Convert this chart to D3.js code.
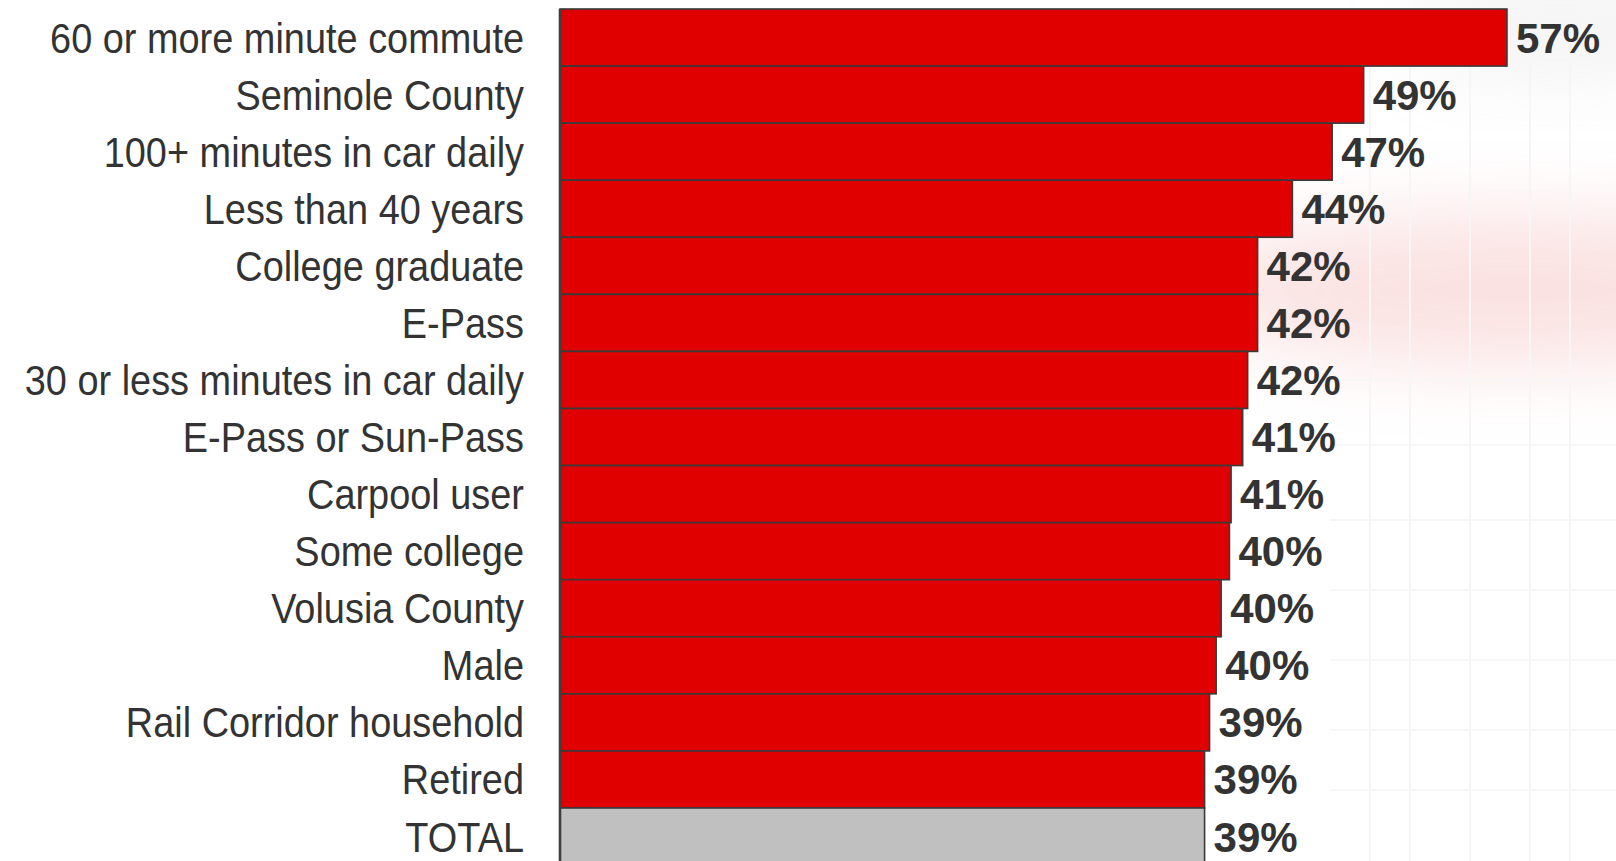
<!DOCTYPE html>
<html>
<head>
<meta charset="utf-8">
<script src="https://cdn.jsdelivr.net/npm/d3@7"></script>
<style>
  html, body { margin: 0; padding: 0; background: #fff; }
  svg { display: block; }
</style>
</head>
<body>
<svg id="chart" width="1616" height="861"></svg>
<script>
const categories = [
  "60 or more minute commute",
  "Seminole County",
  "100+ minutes in car daily",
  "Less than 40 years",
  "College graduate",
  "E-Pass",
  "30 or less minutes in car daily",
  "E-Pass or Sun-Pass",
  "Carpool user",
  "Some college",
  "Volusia County",
  "Male",
  "Rail Corridor household",
  "Retired",
  "TOTAL"
];
const values = [57.15, 48.5, 46.6, 44.2, 42.1, 42.1, 41.5, 41.2, 40.5, 40.4, 39.9, 39.6, 39.2, 38.9, 38.9];
const valueLabels = ["57%", "49%", "47%", "44%", "42%", "42%", "42%", "41%", "41%", "40%", "40%", "40%", "39%", "39%", "39%"];
const highlight = "TOTAL";

const W = 1616, H = 861;
const svg = d3.select("#chart");

// faint decorative background
const defs = svg.append("defs");
const blur = defs.append("filter").attr("id", "blur").attr("x", "-50%").attr("y", "-50%").attr("width", "200%").attr("height", "200%");
blur.append("feGaussianBlur").attr("stdDeviation", 40);
const bg = svg.append("g");
bg.append("ellipse").attr("cx", 1520).attr("cy", 290).attr("rx", 330).attr("ry", 75)
  .attr("fill", "#e86a6a").attr("opacity", 0.2).attr("filter", "url(#blur)");
bg.append("ellipse").attr("cx", 1560).attr("cy", 30).attr("rx", 160).attr("ry", 50)
  .attr("fill", "#b0b0b0").attr("opacity", 0.15).attr("filter", "url(#blur)");
[1370, 1410, 1470, 1530, 1570].forEach(x => {
  bg.append("line").attr("x1", x).attr("x2", x).attr("y1", 60).attr("y2", H)
    .attr("stroke", "#f6f6f6").attr("stroke-width", 2);
});
[380, 445, 520, 590, 660, 730, 790].forEach(y => {
  bg.append("line").attr("x1", 1330).attr("x2", W).attr("y1", y).attr("y2", y)
    .attr("stroke", "#f7f7f7").attr("stroke-width", 2);
});

const x0 = 560;
const x = d3.scaleLinear().domain([0, 60]).range([x0, x0 + 60 * 16.57]);
const y = d3.scaleBand().domain(categories).range([9, 9 + 15 * 57.07]).paddingInner(0).paddingOuter(0);

const g = svg.append("g");

g.selectAll("rect.bar").data(categories).join("rect")
  .attr("class", "bar")
  .attr("x", x(0))
  .attr("y", d => y(d))
  .attr("width", (d, i) => x(values[i]) - x(0))
  .attr("height", y.bandwidth())
  .attr("fill", d => d === highlight ? "#c0c0c0" : "#e00000")
  .attr("stroke", "#3a3a3a")
  .attr("stroke-width", 1.6);

// axis line
const yAxis = d3.axisLeft(y).tickSize(0).tickFormat("");
const axG = svg.append("g").attr("transform", `translate(${x0},0)`).call(yAxis);
axG.select(".domain").attr("stroke", "#3f3f3f").attr("stroke-width", 2.6)
  .attr("d", `M0,${y.range()[0]}V${H + 5}`);

// category labels (Arial-metric font compressed to a narrow face)
const labels = svg.append("g").selectAll("text").data(categories).join("text")
  .attr("text-anchor", "end")
  .attr("font-family", "'Liberation Sans', Arial, sans-serif")
  .attr("font-size", 42)
  .attr("fill", "#333333")
  .text(d => d);
let refW = 474;
let measured = labels.nodes()[0].getComputedTextLength();
let sx = measured > 0 ? refW / measured : 0.9;
labels.attr("transform", d => `translate(524,${y(d) + y.bandwidth() / 2 + 15}) scale(${sx},1)`);

// value labels
svg.append("g").selectAll("text").data(categories).join("text")
  .attr("x", (d, i) => x(values[i]) + 9)
  .attr("y", d => y(d) + y.bandwidth() / 2 + 15)
  .attr("font-family", "'Liberation Sans', Arial, sans-serif")
  .attr("font-weight", "bold")
  .attr("font-size", 42)
  .attr("fill", "#333333")
  .text((d, i) => valueLabels[i]);
</script>
</body>
</html>
